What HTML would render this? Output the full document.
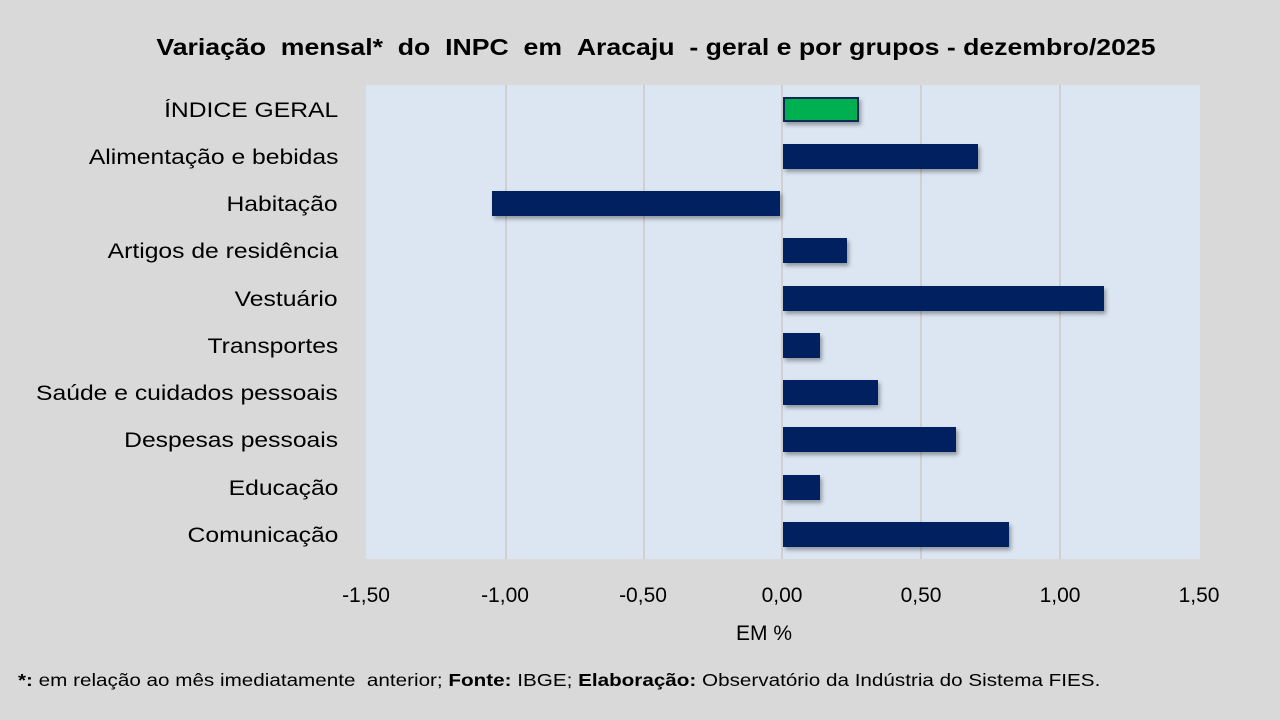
<!DOCTYPE html><html><head><meta charset="utf-8"><style>
body{margin:0;width:1280px;height:720px;background:#d9d9d9;font-family:"Liberation Sans",sans-serif;position:relative;overflow:hidden}
.a{position:absolute}
.t{left:16px;width:1280px;top:34px;text-align:center;font-weight:bold;font-size:23px;color:#000;transform:scaleX(1.158);transform-origin:640px 0}
.plot{left:366px;top:85px;width:834px;height:474px;background:#dce6f2}
.g{top:85px;width:1.5px;height:474px;background:#d0d0d0}
.l{right:942px;font-size:21px;color:#000;text-align:right;white-space:nowrap;transform:scaleX(1.175);transform-origin:right 0}
.b{height:25px;background:#002060;box-shadow:2px 3px 4px rgba(0,0,0,.35)}
.x{top:584px;font-size:21px;width:100px;margin-left:-50px;text-align:center}
</style></head><body>
<div class="a t">Variação &nbsp;mensal* &nbsp;do &nbsp;INPC &nbsp;em &nbsp;Aracaju &nbsp;- geral e por grupos - dezembro/2025</div>
<div class="a plot"></div>
<div class="a g" style="left:505px"></div><div class="a g" style="left:643px"></div><div class="a g" style="left:781px"></div><div class="a g" style="left:920px"></div><div class="a g" style="left:1059px"></div>
<div class="a l" style="top:99px">ÍNDICE GERAL</div>
<div class="a l" style="top:146px">Alimentação e bebidas</div>
<div class="a l" style="top:193px">Habitação</div>
<div class="a l" style="top:240px">Artigos de residência</div>
<div class="a l" style="top:288px">Vestuário</div>
<div class="a l" style="top:335px">Transportes</div>
<div class="a l" style="top:382px">Saúde e cuidados pessoais</div>
<div class="a l" style="top:429px">Despesas pessoais</div>
<div class="a l" style="top:477px">Educação</div>
<div class="a l" style="top:524px">Comunicação</div>
<div class="a b" style="top:97px;left:783px;width:72px;background:#00b050;border:2px solid #0d2a55;height:21px"></div>
<div class="a b" style="top:144px;left:783px;width:195px"></div>
<div class="a b" style="top:191px;left:492px;width:288px"></div>
<div class="a b" style="top:238px;left:783px;width:64px"></div>
<div class="a b" style="top:286px;left:783px;width:321px"></div>
<div class="a b" style="top:333px;left:783px;width:37px"></div>
<div class="a b" style="top:380px;left:783px;width:95px"></div>
<div class="a b" style="top:427px;left:783px;width:173px"></div>
<div class="a b" style="top:475px;left:783px;width:37px"></div>
<div class="a b" style="top:522px;left:783px;width:226px"></div>
<div class="a x" style="left:366px">-1,50</div><div class="a x" style="left:505px">-1,00</div><div class="a x" style="left:643px">-0,50</div><div class="a x" style="left:782px">0,00</div><div class="a x" style="left:921px">0,50</div><div class="a x" style="left:1060px">1,00</div><div class="a x" style="left:1199px">1,50</div>
<div class="a x" style="left:764px;top:622px">EM %</div>
<div class="a" style="left:18px;top:670px;font-size:17.5px;white-space:nowrap;transform:scaleX(1.18);transform-origin:0 0"><b>*:</b> em relação ao mês imediatamente &nbsp;anterior; <b>Fonte:</b> IBGE; <b>Elaboração:</b> Observatório da Indústria do Sistema FIES.</div>
</body></html>
